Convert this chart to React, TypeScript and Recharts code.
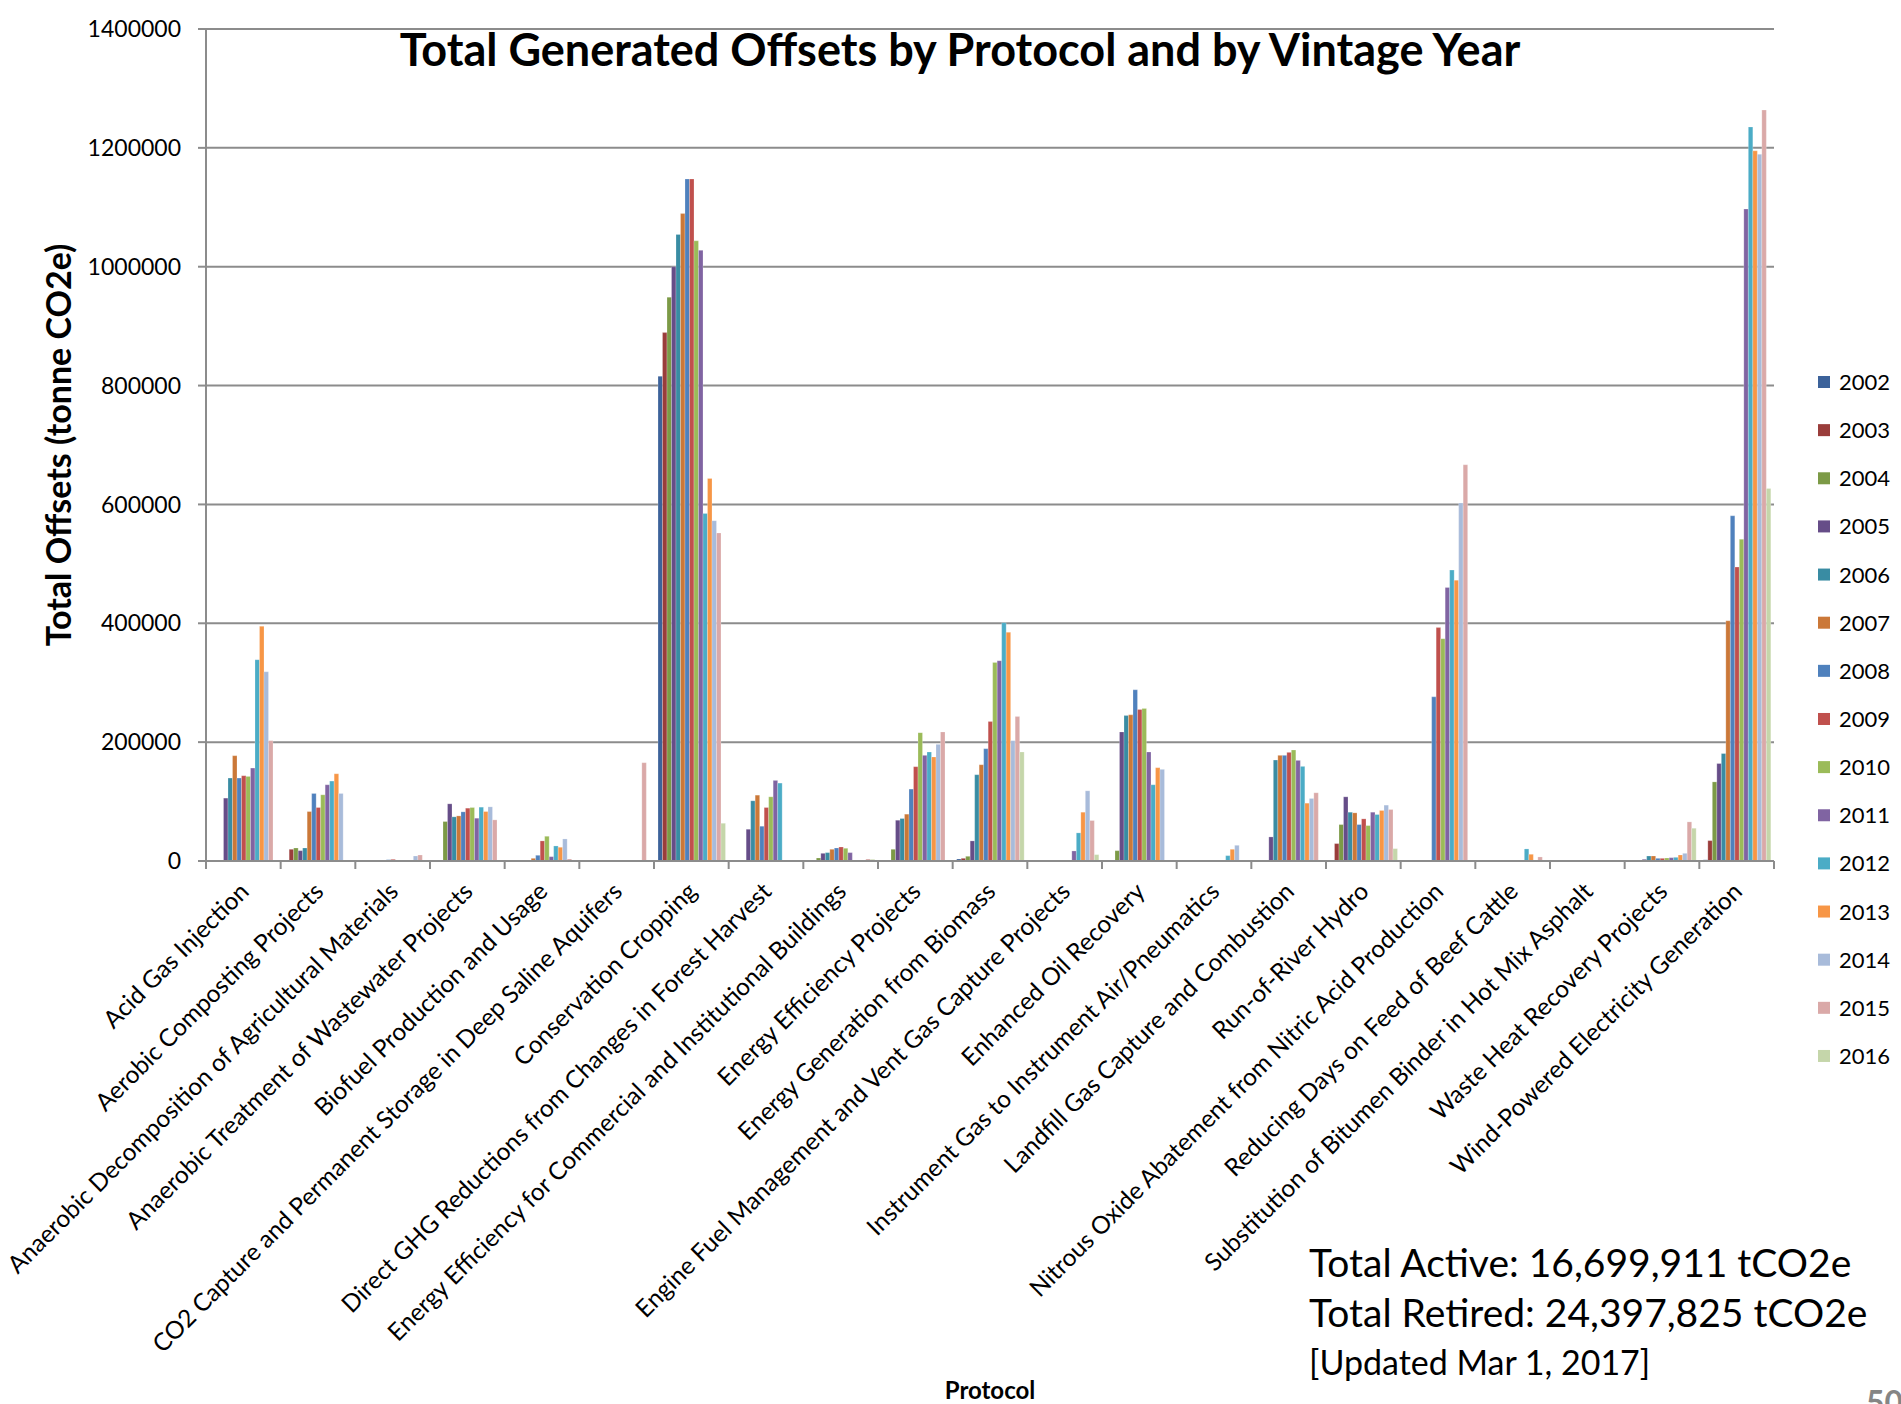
import { BarChart, Bar, XAxis, YAxis, CartesianGrid } from "recharts";

/* ─── Data ─── */

const PROTOCOLS = [
  "Acid Gas Injection",
  "Aerobic Composting Projects",
  "Anaerobic Decomposition of Agricultural Materials",
  "Anaerobic Treatment of Wastewater Projects",
  "Biofuel Production and Usage",
  "CO2 Capture and Permanent Storage in Deep Saline Aquifers",
  "Conservation Cropping",
  "Direct GHG Reductions from Changes in Forest Harvest",
  "Energy Efficiency for Commercial and Institutional Buildings",
  "Energy Efficiency Projects",
  "Energy Generation from Biomass",
  "Engine Fuel Management and Vent Gas Capture Projects",
  "Enhanced Oil Recovery",
  "Instrument Gas to Instrument Air/Pneumatics",
  "Landfill Gas Capture and Combustion",
  "Run-of-River Hydro",
  "Nitrous Oxide Abatement from Nitric Acid Production",
  "Reducing Days on Feed of Beef Cattle",
  "Substitution of Bitumen Binder in Hot Mix Asphalt",
  "Waste Heat Recovery Projects",
  "Wind-Powered Electricity Generation",
];

// tonnes CO2e per protocol (same order as PROTOCOLS), one array per vintage year
const OFFSETS_2002 = [0, 0, 0, 0, 0, 0, 815700, 0, 0, 0, 3400, 0, 0, 0, 0, 0, 0, 0, 0, 0, 2000];
const OFFSETS_2003 = [0, 19700, 0, 0, 0, 0, 889100, 0, 1700, 1000, 4500, 0, 0, 0, 0, 29300, 0, 0, 0, 0, 34300];
const OFFSETS_2004 = [0, 21900, 0, 66400, 0, 0, 948800, 0, 5100, 19700, 7900, 0, 17400, 0, 0, 61300, 0, 0, 0, 0, 133100];
const OFFSETS_2005 = [105800, 17400, 0, 96200, 1700, 0, 1000000, 53400, 12900, 68600, 33800, 0, 217200, 0, 40500, 108000, 0, 0, 0, 2800, 164000];
const OFFSETS_2006 = [139600, 21900, 0, 74300, 1700, 0, 1054300, 101300, 14100, 71500, 145200, 0, 244700, 0, 169900, 82100, 0, 0, 0, 8400, 180800];
const OFFSETS_2007 = [177200, 83200, 0, 75900, 4500, 0, 1089400, 110800, 19700, 78800, 162000, 0, 245900, 0, 177800, 81000, 0, 0, 0, 8400, 404200];
const OFFSETS_2008 = [139600, 113600, 2200, 82700, 9600, 0, 1147600, 58500, 21900, 121000, 189000, 0, 288100, 0, 177800, 61300, 276200, 0, 0, 4500, 580800];
const OFFSETS_2009 = [143500, 90000, 2800, 88900, 33800, 0, 1147600, 90000, 23600, 158700, 234600, 0, 254900, 0, 182800, 70900, 392700, 0, 0, 4500, 494600];
const OFFSETS_2010 = [142300, 111400, 0, 90000, 41600, 0, 1043600, 108000, 21400, 216000, 334200, 0, 256500, 1000, 186800, 59600, 374100, 0, 0, 5100, 541400];
const OFFSETS_2011 = [156400, 128300, 0, 72000, 7300, 0, 1027500, 135600, 14100, 177800, 337000, 16900, 183400, 1500, 169300, 82100, 460200, 0, 0, 5600, 1097100];
const OFFSETS_2012 = [338700, 134500, 0, 90600, 25300, 0, 584900, 131100, 0, 183400, 401100, 47300, 128300, 9000, 159200, 78200, 489500, 20300, 0, 6200, 1235100];
const OFFSETS_2013 = [394900, 146800, 0, 83200, 23100, 0, 643700, 0, 0, 175000, 384800, 82100, 157000, 19700, 97300, 85000, 472600, 11300, 0, 10100, 1195000];
const OFFSETS_2014 = [318400, 113600, 8400, 91100, 37100, 0, 572600, 0, 0, 196300, 202500, 118100, 154200, 26400, 105200, 94000, 602500, 0, 0, 12900, 1189100];
const OFFSETS_2015 = [202500, 0, 10100, 69200, 3400, 165400, 552000, 0, 3400, 217200, 243000, 68100, 0, 0, 114800, 86600, 666700, 6800, 0, 65800, 1263600];
const OFFSETS_2016 = [0, 0, 0, 0, 0, 0, 63500, 0, 2800, 0, 183400, 10700, 0, 0, 0, 20800, 0, 0, 0, 55100, 626800];

const YEARS = ["2002", "2003", "2004", "2005", "2006", "2007", "2008", "2009", "2010", "2011", "2012", "2013", "2014", "2015", "2016"];

const YEAR_VALUES = [
  OFFSETS_2002, OFFSETS_2003, OFFSETS_2004, OFFSETS_2005, OFFSETS_2006,
  OFFSETS_2007, OFFSETS_2008, OFFSETS_2009, OFFSETS_2010, OFFSETS_2011,
  OFFSETS_2012, OFFSETS_2013, OFFSETS_2014, OFFSETS_2015, OFFSETS_2016,
];

const YEAR_COLORS = [
  "#3C629A", "#9A3D3B", "#7C9A46", "#664D88", "#398CA3",
  "#CB7838", "#4F81BD", "#C0504D", "#9BBB59", "#8064A2",
  "#4BACC6", "#F79646", "#A8BBDA", "#DAA9A8", "#C5D6AA",
];

const Y_TICKS = [0, 200000, 400000, 600000, 800000, 1000000, 1200000, 1400000];

const TOTAL_ACTIVE = "16,699,911";
const TOTAL_RETIRED = "24,397,825";
const UPDATED = "Mar 1, 2017";

// one row per protocol, one key per vintage year
const chartData = PROTOCOLS.map((name, i) => {
  const row: Record<string, string | number> = { protocol: name };
  YEARS.forEach((y, k) => {
    row[y] = YEAR_VALUES[k][i];
  });
  return row;
});

/* ─── Layout ─── */

const W = 1901;
const H = 1404;
const PLOT_LEFT = 206;
const PLOT_RIGHT = 1774;
const PLOT_TOP = 29;
const PLOT_BOTTOM = 861;
const BAND = (PLOT_RIGHT - PLOT_LEFT) / PROTOCOLS.length;
const AXIS_GREY = "#8C8C8C";
const FONT = "Lato, 'Open Sans', sans-serif";

// category label rotated 45°, plus the Excel-style tick marks between categories
function ProtocolTick(props: any) {
  const { x, y, payload, index } = props;
  const lx = x + 7;
  const ly = y + 32;
  const isLast = index === PROTOCOLS.length - 1;
  return (
    <g>
      <line x1={x - BAND / 2} x2={x - BAND / 2} y1={y} y2={y + 8} stroke={AXIS_GREY} strokeWidth={2} />
      {isLast && (
        <line x1={x + BAND / 2} x2={x + BAND / 2} y1={y} y2={y + 8} stroke={AXIS_GREY} strokeWidth={2} />
      )}
      <text
        x={lx}
        y={ly}
        transform={`rotate(-45 ${lx} ${ly})`}
        textAnchor="end"
        fontSize={24.4}
        fontFamily={FONT}
        fill="#000"
      >
        {payload.value}
      </text>
    </g>
  );
}

export default function App() {
  return (
    <div
      style={{
        position: "absolute",
        left: 0,
        top: 0,
        width: W,
        height: H,
        overflow: "hidden",
        background: "#fff",
        fontFamily: FONT,
      }}
    >
      <BarChart
        width={W}
        height={H}
        data={chartData}
        margin={{ top: PLOT_TOP, right: W - PLOT_RIGHT, left: 0, bottom: 0 }}
        barGap={0}
        barSize={4.5}
      >
        <CartesianGrid vertical={false} stroke={AXIS_GREY} strokeWidth={2} />
        <XAxis
          dataKey="protocol"
          interval={0}
          height={H - PLOT_BOTTOM}
          tickSize={0}
          tickMargin={0}
          tickLine={false}
          axisLine={{ stroke: AXIS_GREY, strokeWidth: 2 }}
          tick={<ProtocolTick />}
        />
        <YAxis
          width={PLOT_LEFT}
          domain={[0, 1400000]}
          ticks={Y_TICKS}
          interval={0}
          tickSize={8}
          tickMargin={17}
          tickLine={{ stroke: AXIS_GREY, strokeWidth: 2 }}
          axisLine={{ stroke: AXIS_GREY, strokeWidth: 2 }}
          tick={{ fill: "#000", fontSize: 23, fontFamily: FONT }}
        />
        {YEARS.map((y, k) => (
          <Bar
            key={y}
            dataKey={y}
            fill={YEAR_COLORS[k]}
            stroke="#ffffff"
            strokeOpacity={0.45}
            strokeWidth={0.5}
            isAnimationActive={false}
          />
        ))}
      </BarChart>

      {/* titles, legend and totals */}
      <svg
        width={W}
        height={H}
        style={{ position: "absolute", left: 0, top: 0, pointerEvents: "none" }}
        fontFamily={FONT}
      >
        <text x={960} y={66} textAnchor="middle" fontSize={45} fontWeight={700} fill="#000">
          Total Generated Offsets by Protocol and by Vintage Year
        </text>
        <text
          x={57}
          y={445}
          transform="rotate(-90 57 445)"
          textAnchor="middle"
          dominantBaseline="central"
          fontSize={34}
          fontWeight={700}
          fill="#000"
        >
          Total Offsets (tonne CO2e)
        </text>
        <text x={990} y={1399} textAnchor="middle" fontSize={24} fontWeight={700} fill="#000">
          Protocol
        </text>

        {YEARS.map((y, k) => {
          const cy = 382 + k * 48.14;
          return (
            <g key={y}>
              <rect x={1818} y={cy - 6} width={12} height={12} fill={YEAR_COLORS[k]} />
              <text x={1839} y={cy + 8} fontSize={22} fill="#000">
                {y}
              </text>
            </g>
          );
        })}

        <text x={1309} y={1277} fontSize={39} fill="#000">
          Total Active: {TOTAL_ACTIVE} tCO2e
        </text>
        <text x={1309} y={1327} fontSize={39} fill="#000">
          Total Retired: {TOTAL_RETIRED} tCO2e
        </text>
        <text x={1309} y={1375} fontSize={34} fill="#000">
          [Updated {UPDATED}]
        </text>
        <text x={1866} y={1414} fontSize={32} fontWeight={700} fill="#858585">
          50
        </text>
      </svg>
    </div>
  );
}
